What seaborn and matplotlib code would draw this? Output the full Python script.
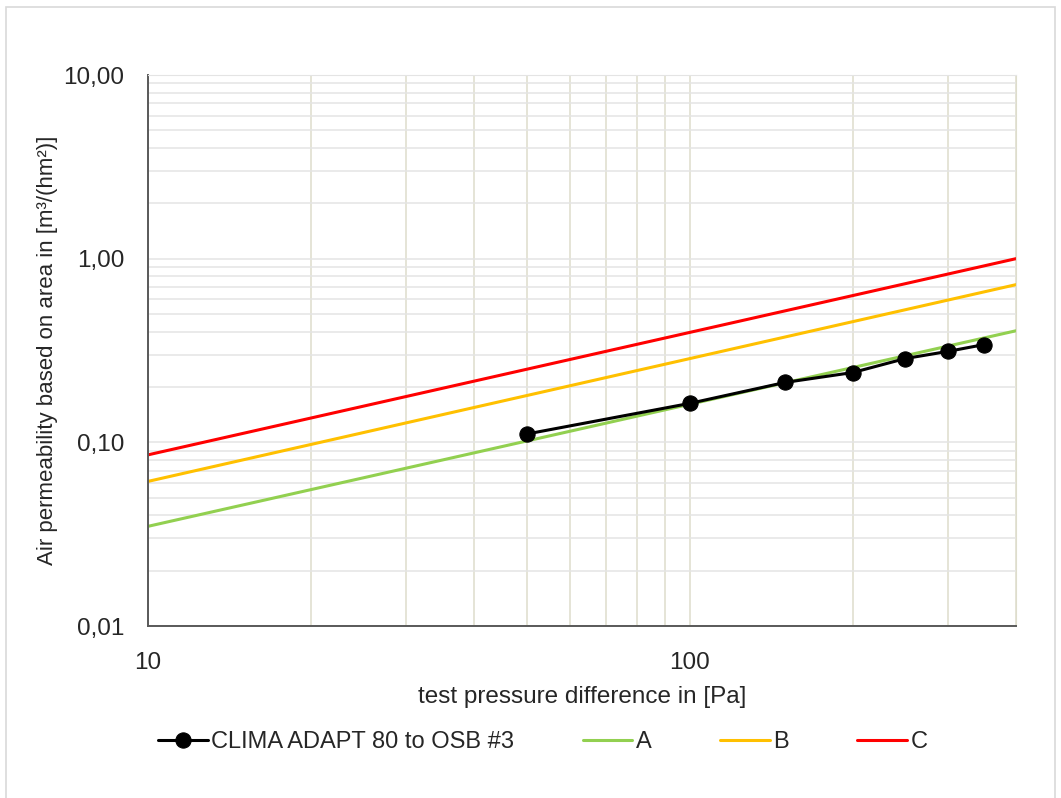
import numpy as np
import matplotlib.pyplot as plt
import matplotlib.ticker as mticker
import pandas as pd
import seaborn as sns

# measured series
pressure = [50, 100, 150, 200, 250, 300, 350]
permeability = [0.111, 0.163, 0.212, 0.240, 0.286, 0.313, 0.341]

# class limit lines (read at both ends of the axis)
class_x = [10, 400]
class_a = [0.0349, 0.405]
class_b = [0.0613, 0.722]
class_c = [0.0855, 1.00]

y_ticks = [0.01, 0.1, 1, 10]
y_labels = ['0,01', '0,10', '1,00', '10,00']
x_ticks = [10, 100]
x_labels = ['10', '100']

sns.set_style('white')
plt.rcParams['font.family'] = ['Liberation Sans', 'DejaVu Sans']

fig = plt.figure(figsize=(10.61, 7.98), dpi=100)
ax = fig.add_axes([0.1395, 0.2155, 0.818, 0.6905])

meas = pd.DataFrame({'p': pressure, 'q': permeability})
sns.lineplot(data=meas, x='p', y='q', ax=ax, color='black', lw=2.2, marker='o',
             markersize=11, markeredgecolor='black', label='CLIMA ADAPT 80 to OSB #3', zorder=5)
sns.lineplot(x=class_x, y=class_a, ax=ax, color='#92d050', lw=2.2, label='A')
sns.lineplot(x=class_x, y=class_b, ax=ax, color='#ffc000', lw=2.2, label='B')
sns.lineplot(x=class_x, y=class_c, ax=ax, color='#ff0000', lw=2.2, label='C')

ax.set_xscale('log')
ax.set_yscale('log')
ax.set_xlim(10, 400)
ax.set_ylim(0.01, 10)

ax.set_xticks(x_ticks)
ax.set_xticklabels(x_labels)
ax.set_yticks(y_ticks)
ax.set_yticklabels(y_labels)
ax.xaxis.set_minor_locator(mticker.LogLocator(base=10, subs=np.arange(2, 10)))
ax.yaxis.set_minor_locator(mticker.LogLocator(base=10, subs=np.arange(2, 10)))
ax.xaxis.set_minor_formatter(mticker.NullFormatter())
ax.yaxis.set_minor_formatter(mticker.NullFormatter())
ax.tick_params(which='both', length=0, labelsize=17.5, colors='#262626')
ax.tick_params(axis='x', pad=19)
ax.tick_params(axis='y', pad=17)

ax.grid(True, which='both', axis='x', color='#deddcc', lw=1.1)
ax.grid(True, which='both', axis='y', color='#e4e4e4', lw=1.1)
ax.set_axisbelow(True)

for s in ['left', 'bottom']:
    ax.spines[s].set_color('#595959')
    ax.spines[s].set_linewidth(1.4)
ax.spines['top'].set_color('#e4e4e4')
ax.spines['right'].set_color('#deddcc')

ax.set_xlabel('test pressure difference in [Pa]', fontsize=17.5, color='#262626', labelpad=8)
ax.set_ylabel('Air permeability based on area in [m³/(hm²)]', fontsize=16, color='#262626', labelpad=4)

ax.legend(loc='upper center', bbox_to_anchor=(0.455, -0.152), ncol=4, frameon=False,
          fontsize=17, handlelength=2.1, columnspacing=2.9, handletextpad=0.15)

# thin light frame around the picture
fig.add_artist(plt.Rectangle((6 / 1061, -0.01), 1049 / 1061, 1 - 7 / 798 + 0.01,
                             transform=fig.transFigure, fill=False, ec='#d9d9d9', lw=1.2))

fig.savefig('out.png', dpi=100)
